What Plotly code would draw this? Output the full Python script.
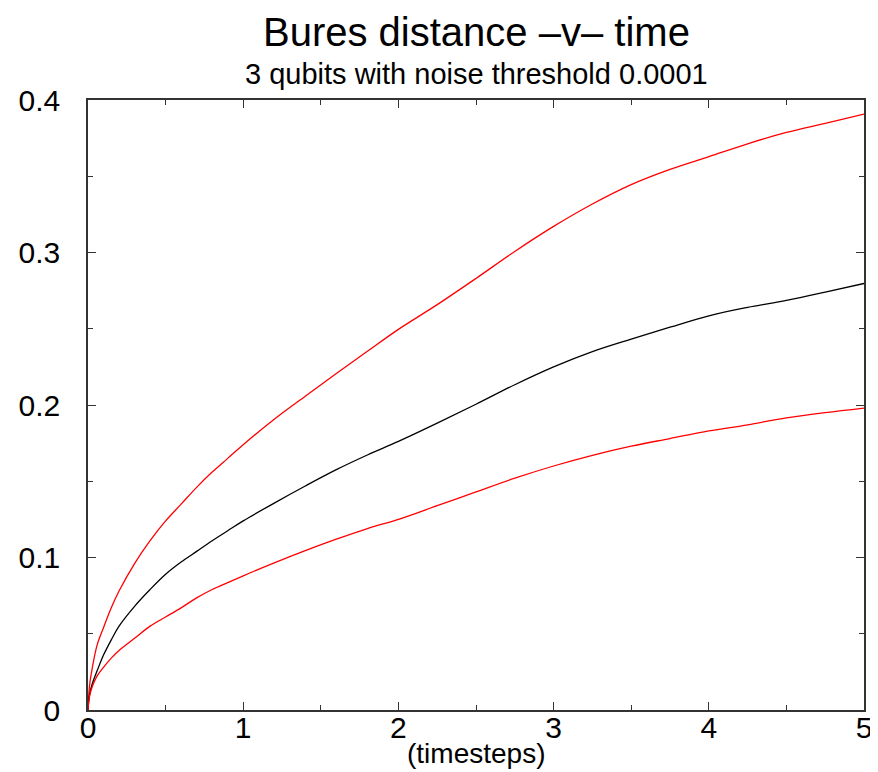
import plotly.graph_objects as go

time = [0, 0.01, 0.03, 0.06, 0.1, 0.15, 0.2, 0.3, 0.4, 0.5, 0.6, 0.7, 0.8, 0.9, 1.0,
        1.2, 1.4, 1.6, 1.8, 2.0, 2.25, 2.5, 2.75, 3.0, 3.25, 3.5, 3.75, 4.0, 4.25,
        4.5, 4.75, 5.0]
upper = [0, 0.016, 0.029, 0.043, 0.054, 0.067, 0.078, 0.096, 0.111, 0.124, 0.135,
         0.146, 0.156, 0.165, 0.174, 0.1907, 0.2058, 0.2207, 0.2352, 0.2496, 0.2658,
         0.283, 0.3007, 0.3171, 0.3318, 0.3445, 0.3545, 0.3628, 0.3713, 0.3787,
         0.3847, 0.3907]
mean = [0, 0.010, 0.018, 0.026, 0.036, 0.046, 0.055, 0.068, 0.079, 0.089, 0.097,
        0.104, 0.111, 0.1175, 0.124, 0.1357, 0.1469, 0.1576, 0.1672, 0.1761, 0.1881,
        0.2005, 0.2133, 0.2250, 0.2350, 0.2432, 0.251, 0.2585, 0.264, 0.2686, 0.274,
        0.2797]
lower = [0, 0.009, 0.016, 0.0225, 0.028, 0.034, 0.039, 0.047, 0.055, 0.061, 0.067,
         0.0735, 0.079, 0.0835, 0.088, 0.0965, 0.1045, 0.112, 0.119, 0.125, 0.134,
         0.143, 0.152, 0.160, 0.167, 0.173, 0.178, 0.1830, 0.187, 0.1915, 0.195,
         0.198]

title = "Bures distance \u2013v\u2013 time"
subtitle = "3 qubits with noise threshold 0.0001"
xlabel = "(timesteps)"
x_ticks = [0, 1, 2, 3, 4, 5]
y_ticks = [0, 0.1, 0.2, 0.3, 0.4]
y_tick_text = ["0", "0.1", "0.2", "0.3", "0.4"]

FONT = "Liberation Sans, Arial, sans-serif"

fig = go.Figure()
fig.add_trace(go.Scatter(x=time, y=upper, mode="lines", line_shape="spline",
                         line=dict(color="#ff0000", width=1.3), showlegend=False))
fig.add_trace(go.Scatter(x=time, y=mean, mode="lines", line_shape="spline",
                         line=dict(color="#000000", width=1.3), showlegend=False))
fig.add_trace(go.Scatter(x=time, y=lower, mode="lines", line_shape="spline",
                         line=dict(color="#ff0000", width=1.3), showlegend=False))

axis_common = dict(
    showgrid=False, zeroline=False, showline=True, linecolor="#333333", linewidth=1.5,
    mirror="allticks", ticks="inside", ticklen=8, tickwidth=1.2, tickcolor="#333333",
    tickfont=dict(family=FONT, size=30, color="#000000"), automargin=False,
)

fig.update_xaxes(range=[0, 5], tickvals=x_ticks, ticklabelstandoff=-10,
                 minor=dict(dtick=0.5, ticks="inside", ticklen=5, tickwidth=1.2,
                            tickcolor="#333333"),
                 **axis_common)
fig.update_yaxes(range=[0, 0.4], tickvals=y_ticks, ticktext=y_tick_text,
                 ticklabelstandoff=20,
                 minor=dict(dtick=0.05, ticks="inside", ticklen=5, tickwidth=1.2,
                            tickcolor="#333333"),
                 **axis_common)

# page has an 8px body margin; plot area sits at x 88..864, y 100..710 on the page
W, H = 870, 764
ML, MR, MT, MB = 80, 14, 92, 62
plot_h = H - MT - MB
plot_top_page = 8 + MT


def ypos(page_y):
    return 1 + (plot_top_page - page_y) / plot_h


fig.update_layout(
    width=W, height=H,
    margin=dict(l=ML, r=MR, t=MT, b=MB, autoexpand=False),
    paper_bgcolor="white", plot_bgcolor="white",
    annotations=[
        dict(text=title, x=0.5, xref="paper", y=ypos(32), yref="paper",
             yanchor="middle", showarrow=False,
             font=dict(family=FONT, size=40, color="#000")),
        dict(text=subtitle, x=0.5, xref="paper", y=ypos(74), yref="paper",
             yanchor="middle", showarrow=False,
             font=dict(family=FONT, size=29, color="#000")),
        dict(text=xlabel, x=0.5, xref="paper", y=ypos(753), yref="paper",
             yanchor="middle", showarrow=False,
             font=dict(family=FONT, size=28, color="#000")),
    ],
)

fig.write_html("out.html")
